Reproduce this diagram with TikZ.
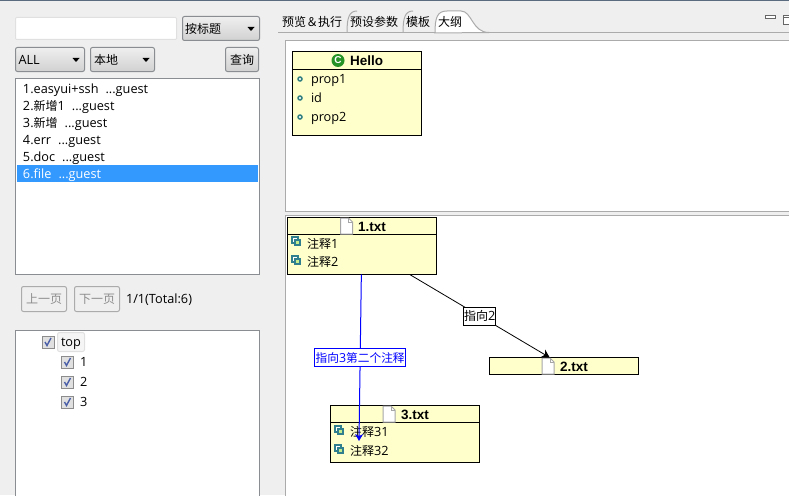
\documentclass[tikz,border=0pt]{standalone}
\usepackage{fontspec}
\setmainfont{Open Sans}[Scale=1.06]
\newfontfamily\cjk{Noto Sans CJK SC}
\newfontfamily\boldsans{Liberation Sans}[BoldFont={Liberation Sans Bold}]
\usetikzlibrary{shadings,arrows.meta}
\newcommand{\cn}[1]{{\cjk #1}}
\newcommand{\gap}{\hspace{7pt}}
\definecolor{panelgray}{HTML}{EFEFEF}
\definecolor{framegray}{HTML}{8A8D92}
\definecolor{panelline}{HTML}{ABABAB}
\definecolor{notebg}{HTML}{FFFFCC}
\definecolor{rowblue}{HTML}{3399FF}
\definecolor{topbar}{HTML}{5A6B80}
\definecolor{linkblue}{HTML}{0000FF}
\definecolor{checkblue}{HTML}{4A5FA8}
\definecolor{noteline}{HTML}{2F7F8F}
\definecolor{notefill}{HTML}{C4EC8C}
\tikzset{
    every node/.style={outer sep=0pt},
    txt/.style={inner sep=0pt, anchor=base west, font=\fontsize{12}{14}\selectfont},
    title/.style={inner sep=0pt, anchor=base west, font=\boldsans\fontsize{13.5}{15}\selectfont\bfseries},
    listbox/.style={draw=framegray, fill=white, line width=1pt, anchor=north west, inner sep=0pt},
    combo/.style={draw=framegray, line width=1pt, rounded corners=2pt, top color=panelgray, bottom color=black!18, anchor=north west, inner sep=0pt, font=\fontsize{12}{14}\selectfont},
    pagebtn/.style={draw=panelline, line width=1pt, rounded corners=2pt, fill=panelgray, anchor=north west, inner sep=0pt, text=black!45, minimum width=45, minimum height=25, font=\fontsize{12}{14}\selectfont},
    umlbox/.style={draw=black, fill=notebg, line width=1pt, anchor=north west, inner sep=0pt},
    blacklabel/.style={draw=black, fill=white, line width=1pt, inner sep=0pt, minimum height=18, text width=32, align=center, font=\fontsize{12}{14}\selectfont},
    bluelabel/.style={draw=linkblue, fill=white, line width=1pt, inner sep=0pt, minimum height=18, text=linkblue, text width=91, align=center, font=\fontsize{11.7}{14}\selectfont},
    pageicon/.pic={
        \draw[black!35, fill=white, line width=1pt] (-6,8) -- (-6,-8) -- (2,-8) -- (6,-4) -- (6,8) -- cycle;
        \draw[black!35, line width=0.6pt] (2,-8) -- (2,-4) -- (6,-4);
    },
    noteicon/.pic={
        \draw[noteline, fill=white, line width=1.2pt] (-4,-4) rectangle (2,2);
        \draw[noteline, fill=notefill, line width=1.2pt] (-1,-1) rectangle (4,4);
    },
    propicon/.pic={
        \draw[teal!60!gray, fill=white, line width=1.5pt] (0,0) circle (2);
    },
    checkicon/.pic={
        \draw[black!45, fill=black!12, line width=1pt] (-6,-6) rectangle (6,6);
        \draw[checkblue, line width=1.4pt] (-3,0) -- (-1,3.5) -- (3,-4);
    },
    comboarrow/.pic={
        \fill[black] (-3.5,-2) -- (3.5,-2) -- (0,2) -- cycle;
    },
}
\begin{document}
\begin{tikzpicture}[x=1pt, y=-1pt]
    \useasboundingbox (0,0) rectangle (789,495);
    \fill[panelgray] (0,0) rectangle (789,495);
    \fill[topbar] (0,0) rectangle (789,1.5);

    \node[draw=black!12, fill=white, rounded corners=1pt, line width=1pt, anchor=north west, minimum width=161, minimum height=22, inner sep=0pt] (searchbox) at (15.5,17.5) {};
    \node[combo, minimum width=77, minimum height=24, text width=72, align=left] (titlecombo) at (182.5,16.5) {\cn{按标题}};
    \pic at (251,29) {comboarrow};
    \node[combo, minimum width=69, minimum height=24, text width=63, align=left] (allcombo) at (15.5,47.5) {ALL};
    \pic at (76,60) {comboarrow};
    \node[combo, minimum width=64, minimum height=24, text width=57, align=left] (localcombo) at (90.5,47.5) {\cn{本地}};
    \pic at (146,60) {comboarrow};
    \node[combo, minimum width=33, minimum height=24] (querybtn) at (225.5,47.5) {\cn{查询}};

    \node[listbox, minimum width=244, minimum height=196] (docbox) at (15.5,78.5) {};
    \fill[rowblue] (17,165) rectangle (258,182);
    \node[txt] (doc1) at (23,93) {1.easyui+ssh\gap...guest};
    \node[txt] (doc2) at (23,110) {2.\cn{新增}1\gap...guest};
    \node[txt] (doc3) at (23,127) {3.\cn{新增}\gap...guest};
    \node[txt] (doc4) at (23,144) {4.err\gap...guest};
    \node[txt] (doc5) at (23,161) {5.doc\gap...guest};
    \node[txt, text=white] (doc6) at (23,178) {6.file\gap...guest};

    \node[pagebtn] (prevbtn) at (21.5,286.5) {\cn{上一页}};
    \node[pagebtn] (nextbtn) at (74.5,286.5) {\cn{下一页}};
    \node[txt] (pageinfo) at (126,303) {1/1(Total:6)};

    \node[listbox, minimum width=244, minimum height=180] (treebox) at (15.5,330.5) {};
    \node[draw=black!12, fill=panelgray!60, rounded corners=2pt, line width=1pt, anchor=north west, minimum width=27, minimum height=19, inner sep=0pt] (topbtn) at (57.5,332.5) {};
    \node[txt] (treetop) at (61,346) {top};
    \pic at (48,342) {checkicon};
    \pic at (67.5,362) {checkicon};
    \pic at (67.5,382) {checkicon};
    \pic at (67.5,402) {checkicon};
    \node[txt] (tree1) at (80,366) {1};
    \node[txt] (tree2) at (80,386) {2};
    \node[txt] (tree3) at (80,406) {3};

    \draw[panelline, line width=1pt] (278,32.5) -- (789,32.5);
    \draw[panelline, line width=1pt] (347,32.5) .. controls (347,18) and (349,11) .. (357,11);
    \draw[panelline, line width=1pt] (403,32.5) .. controls (403,18) and (405,11) .. (413,11);
    \draw[panelline, line width=1pt, fill=white] (435,33) .. controls (435,18) and (437,11) .. (447,11) -- (461,11) .. controls (472,11) and (472,32.5) .. (489,32.5) -- cycle;
    \node[txt] (tabrun) at (282,27) {\cn{预览＆执行}};
    \node[txt] (tabparam) at (350,27) {\cn{预设参数}};
    \node[txt] (tabtpl) at (406,27) {\cn{模板}};
    \node[txt] (tabout) at (438,27) {\cn{大纲}};
    \draw[black!60, fill=white, line width=1pt] (765.5,15.5) rectangle (775,18.5);
    \draw[black!60, fill=white, line width=1pt] (783.5,15.5) rectangle (792,24.5);
    \draw[black!60, line width=1pt] (783.5,17.5) -- (789,17.5);

    \draw[panelline, line width=1pt, fill=white] (285.5,40.5) rectangle (792,211);
    \draw[panelline, line width=1pt, fill=white] (285.5,215.5) rectangle (792,498);

    \node[umlbox, minimum width=129.5, minimum height=83] (helloclass) at (292,52) {};
    \draw[black, line width=1pt] (292,69.5) -- (421.5,69.5);
    \fill[green!50!black!85] (338,60.5) circle (6.5);
    \node[inner sep=0pt, text=white, font=\boldsans\fontsize{10}{10}\selectfont\bfseries] (helloicon) at (338,60.5) {C};
    \node[title] (hellotitle) at (350,65.5) {Hello};
    \pic at (300,79) {propicon};
    \pic at (300,98) {propicon};
    \pic at (300,117) {propicon};
    \node[txt] (prop1) at (311,83) {prop1};
    \node[txt] (propid) at (311,102) {id};
    \node[txt] (prop2) at (311,121) {prop2};

    \node[umlbox, minimum width=149.5, minimum height=57] (onetxt) at (287,217.5) {};
    \draw[black, line width=1pt] (287,234.5) -- (436.5,234.5);
    \pic at (346.5,226) {pageicon};
    \node[title] (onetitle) at (358,231) {1.txt};
    \pic at (296,241) {noteicon};
    \pic at (296,260) {noteicon};
    \node[txt] (note1) at (307,248) {\cn{注释}1};
    \node[txt] (note2) at (307,266) {\cn{注释}2};

    \node[umlbox, minimum width=149, minimum height=17] (twotxt) at (489.5,357.5) {};
    \pic at (548,366) {pageicon};
    \node[title] (twotitle) at (560,371) {2.txt};

    \node[umlbox, minimum width=149, minimum height=57] (threetxt) at (330.5,405.5) {};
    \draw[black, line width=1pt] (330.5,422.5) -- (479.5,422.5);
    \pic at (389,414) {pageicon};
    \node[title] (threetitle) at (401,419) {3.txt};
    \pic at (339,430) {noteicon};
    \pic at (339,449) {noteicon};
    \node[txt] (note31) at (350,436) {\cn{注释}31};
    \node[txt] (note32) at (350,455) {\cn{注释}32};
    \coordinate (notetarget) at (359,441);

    \draw[-{Stealth[length=8, width=9]}, line width=0.8pt] (onetxt) -- node[blacklabel] (linktwo) {\cn{指向}2} (twotxt);
    \draw[-{Stealth[length=7, width=8]}, linkblue, line width=1pt] (onetxt) -- node[bluelabel] (linkthree) {\cn{指向}3\cn{第二个注释}} (notetarget);
\end{tikzpicture}
\end{document}
